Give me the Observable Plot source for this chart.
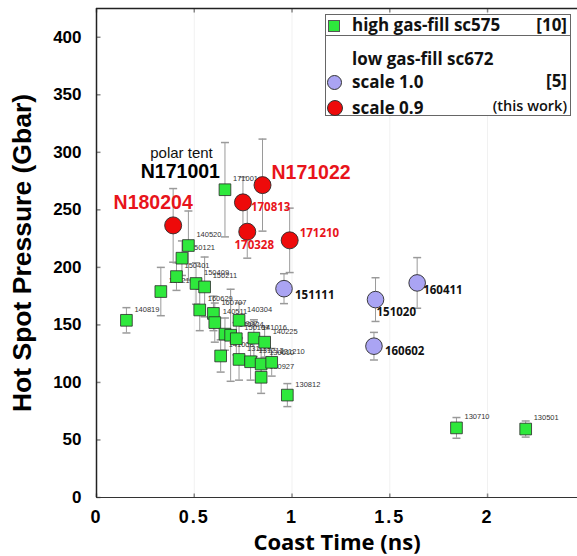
<!DOCTYPE html>
<html><head><meta charset="utf-8">
<script src="https://cdn.jsdelivr.net/npm/d3@7"></script>
<script src="https://cdn.jsdelivr.net/npm/@observablehq/plot@0.6"></script>
<style>
body{margin:0;background:#fff;}
#wrap{position:relative;width:577px;height:556px;overflow:hidden;}
#wrap svg{position:absolute;left:0;top:0;}
g[aria-label="y-axis tick label"] text{font:700 17px "Liberation Sans",Arial,sans-serif;fill:#000;}
g[aria-label="x-axis tick label"] text{font:700 18px "Liberation Sans",Arial,sans-serif;fill:#000;letter-spacing:2px;}
g[aria-label="y-axis label"] text{font:700 26.5px "Liberation Sans",Arial,sans-serif;fill:#000;}
g[aria-label="x-axis label"] text{font:700 22px "Open Sans",sans-serif;fill:#000;}
#legend{position:absolute;left:325px;top:14px;width:244px;height:100px;border:1px solid #666;background:#fff;font-family:"Open Sans",sans-serif;font-weight:700;color:#111;}
#legend .t{position:absolute;font-size:17px;line-height:20px;white-space:nowrap;}
#legend .sm{font-size:14.5px;font-weight:600;}
#legend .div{position:absolute;left:0;right:0;top:20px;border-top:1px solid #666;}
#legend .sw{position:absolute;border:1px solid #333;box-sizing:border-box;}
</style></head><body><div id="wrap"></div><script>
// axis ticks
const xTicks = [0, 0.5, 1, 1.5, 2];
const yTicks = [0, 50, 100, 150, 200, 250, 300, 350, 400];

// high gas-fill sc575 (green squares)
const hgShot = ["140819","150216","150401","150121","140520","150409","150211","160629","160707","140511","160907","140924","150107","140304","141016","140225","141008","131119","131212","130610","131210","130927","130812","130710","130501","171001"];
const hgX = [0.153,0.329,0.409,0.437,0.470,0.509,0.553,0.528,0.598,0.605,0.657,0.686,0.715,0.729,0.805,0.860,0.635,0.729,0.788,0.842,0.896,0.842,0.976,1.841,2.195,0.657];
const hgY = [154,179,192,208,219,186,183,163,160,152,142,141,138,154,138.5,135,123,120,118,116,117.5,104.5,89,60.5,59.5,267.5];
const hgErr = [11,21,12,15,30,18,26,18,15,17,14,40,14,15,16,13,14,18,16,12,12,14,10,9,7,41];

// low gas-fill sc672, scale 1.0 (lavender circles)
const s10Shot = ["151111","151020","160411","160602"];
const s10X = [0.959,1.427,1.640,1.419];
const s10Y = [181.5,172,186.5,131.5];
const s10Err = [13,19,22,12];

// low gas-fill sc672, scale 0.9 (red circles, this work)
const s09Shot = ["180204","170813","171022","170328","171210"];
const s09X = [0.392,0.749,0.849,0.771,0.988];
const s09Y = [236.5,256.5,271.5,231,223.5];
const s09Err = [32,22,40,23,28];

const mk = (shot, X, Y, E) => shot.map((s, i) => ({shot: s, x: X[i], y: Y[i], e: E[i]}));
const hg = mk(hgShot, hgX, hgY, hgErr);
const s10 = mk(s10Shot, s10X, s10Y, s10Err);
const s09 = mk(s09Shot, s09X, s09Y, s09Err);
const all = [...hg, ...s10, ...s09];

const GREEN = "#2ee83c", BLUE = "#aaa4f3", RED = "#ee0a0a", LABRED = "#e8141b";

const hcap = {draw(ctx, size){const w = Math.sqrt(size/Math.PI); ctx.moveTo(-w,0); ctx.lineTo(w,0);}};
const tickRight = {draw(ctx, size){const w = Math.sqrt(size/Math.PI); ctx.moveTo(0,0); ctx.lineTo(w,0);}};
const tickUp = {draw(ctx, size){const w = Math.sqrt(size/Math.PI); ctx.moveTo(0,0); ctx.lineTo(0,-w);}};
const tickDown = {draw(ctx, size){const w = Math.sqrt(size/Math.PI); ctx.moveTo(0,0); ctx.lineTo(0,w);}};

const lab = (data, shot, opts) => Plot.text(data.filter(d => d.shot === shot), {x: "x", y: "y", text: d => d.shot, ...opts});
const redOpt = {fill: LABRED, fontSize: 11.5, fontWeight: 700, fontFamily: "Open Sans, sans-serif"};
const blkOpt = {fill: "#111", fontSize: 11.5, fontWeight: 700, fontFamily: "Open Sans, sans-serif"};
const bigOpt = {fontSize: 19.5, fontWeight: 700, fontFamily: "Liberation Sans, Arial, sans-serif"};

const chart = Plot.plot({
  width: 577, height: 556,
  marginLeft: 96, marginTop: 8, marginRight: 0, marginBottom: 59,
  x: {domain: [0, 2.46]},
  y: {domain: [0, 425]},
  style: {background: "white", overflow: "visible"},
  marks: [
    Plot.ruleX(xTicks.slice(1), {stroke: "#f1f1f1", strokeWidth: 1}),
    Plot.dot(yTicks, {y: d => d, frameAnchor: "left", symbol: tickRight, r: 4, stroke: "#888", fill: "none"}),
    Plot.dot(xTicks, {x: d => d, frameAnchor: "top", symbol: tickDown, r: 4, stroke: "#888", fill: "none"}),
    Plot.dot(xTicks, {x: d => d, frameAnchor: "bottom", symbol: tickUp, r: 4, stroke: "#888", fill: "none"}),
    Plot.axisX({ticks: xTicks, tickSize: 0, tickPadding: 13, tickFormat: d => String(d), label: "Coast Time (ns)", labelAnchor: "center", labelOffset: 52, labelArrow: "none"}),
    Plot.axisY({ticks: yTicks, tickSize: 0, tickPadding: 15, label: "Hot Spot Pressure (Gbar)", labelAnchor: "center", labelOffset: 84, labelArrow: "none"}),
    // error bars
    Plot.ruleX(all, {x: "x", y1: d => d.y - d.e, y2: d => d.y + d.e, stroke: "#9a9a9a", strokeWidth: 1}),
    Plot.dot(all, {x: "x", y: d => d.y - d.e, symbol: hcap, r: 4, stroke: "#9a9a9a", fill: "none"}),
    Plot.dot(all, {x: "x", y: d => d.y + d.e, symbol: hcap, r: 4, stroke: "#9a9a9a", fill: "none"}),
    // small shot labels on squares
    Plot.text(hg, {x: "x", y: "y", text: "shot", dx: 8, dy: -11, textAnchor: "start", fontSize: 7.5, fill: "#333", fontFamily: "Liberation Sans, Arial, sans-serif"}),
    // markers
    Plot.dot(hg, {x: "x", y: "y", symbol: "square", r: 6.6, fill: GREEN, stroke: "#2a2a2a", strokeWidth: 0.8}),
    Plot.dot(s10, {x: "x", y: "y", r: 8.3, fill: BLUE, stroke: "#2a2a2a", strokeWidth: 0.9}),
    Plot.dot(s09, {x: "x", y: "y", r: 8.5, fill: RED, stroke: "#2a2a2a", strokeWidth: 0.9}),
    // labels on circles
    lab(s09, "170813", {...redOpt, dx: 8, dy: 5, textAnchor: "start"}),
    lab(s09, "170328", {...redOpt, dx: 7, dy: 14, textAnchor: "middle"}),
    lab(s09, "171210", {...redOpt, dx: 10, dy: -7, textAnchor: "start"}),
    lab(s10, "151111", {...blkOpt, dx: 11, dy: 7, textAnchor: "start"}),
    lab(s10, "151020", {...blkOpt, dx: 1, dy: 13, textAnchor: "start"}),
    lab(s10, "160411", {...blkOpt, dx: 6, dy: 7, textAnchor: "start"}),
    lab(s10, "160602", {...blkOpt, dx: 11, dy: 5, textAnchor: "start"}),
    // big annotations
    Plot.text(hg.filter(d => d.shot === "171001"), {x: "x", y: "y", text: d => "N" + d.shot, dx: -44.6, dy: -17.6, textAnchor: "middle", fill: "#000", ...bigOpt}),
    Plot.text(hg.filter(d => d.shot === "171001"), {x: "x", y: "y", text: () => "polar tent", dx: -43.5, dy: -36.6, textAnchor: "middle", fill: "#111", fontSize: 15, fontFamily: "Liberation Sans, Arial, sans-serif"}),
    Plot.text(s09.filter(d => d.shot === "171022"), {x: "x", y: "y", text: d => "N" + d.shot, dx: 9, dy: -12.3, textAnchor: "start", fill: LABRED, ...bigOpt}),
    Plot.text(s09.filter(d => d.shot === "180204"), {x: "x", y: "y", text: d => "N" + d.shot, dx: -20, dy: -22.3, textAnchor: "middle", fill: LABRED, ...bigOpt}),
    // frame
    Plot.ruleX([0], {stroke: "#222", strokeWidth: 1.5}),
    Plot.ruleY([0], {stroke: "#333", strokeWidth: 1.2}),
    Plot.ruleY([425], {stroke: "#222", strokeWidth: 1.5})
  ]
});
const wrap = document.getElementById("wrap");
wrap.appendChild(chart);

// legend
const legend = document.createElement("div");
legend.id = "legend";
legend.innerHTML = `
  <div class="sw" style="left:2px;top:5px;width:12px;height:12px;background:${GREEN};border-color:#555"></div>
  <div class="t" style="left:26px;top:0px">high gas-fill sc575</div>
  <div class="t" style="right:3px;top:0px">[10]</div>
  <div class="div"></div>
  <div class="t" style="left:26px;top:34px">low gas-fill sc672</div>
  <div class="sw" style="left:1px;top:60px;width:15px;height:15px;border-radius:50%;background:${BLUE}"></div>
  <div class="t" style="left:26px;top:57px">scale 1.0</div>
  <div class="t" style="right:3px;top:56px">[5]</div>
  <div class="sw" style="left:1px;top:85px;width:16px;height:16px;border-radius:50%;background:${RED}"></div>
  <div class="t" style="left:26px;top:83px">scale 0.9</div>
  <div class="t sm" style="right:3px;top:81px">(this work)</div>`;
wrap.appendChild(legend);
</script></body></html>
